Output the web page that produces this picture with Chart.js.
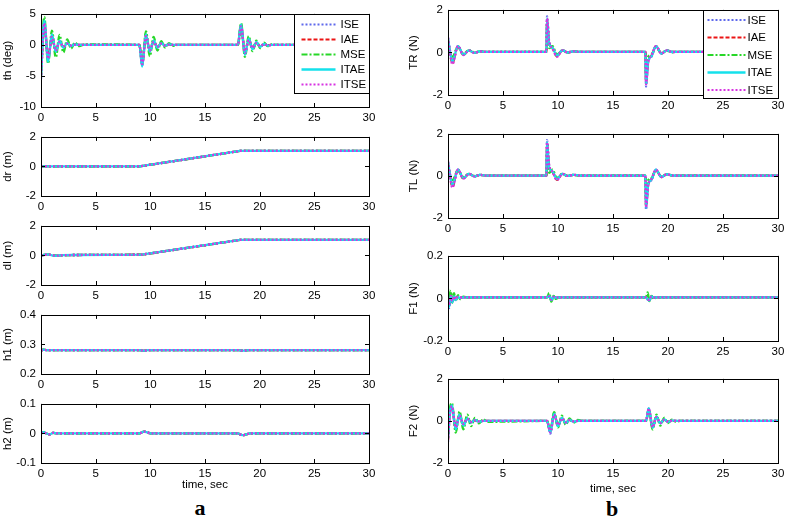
<!DOCTYPE html>
<html>
<head>
<meta charset="utf-8">
<script src="https://cdn.jsdelivr.net/npm/chart.js@4"></script>
<style>
  body { margin: 0; background: #fff; width: 785px; height: 521px; position: relative; overflow: hidden; }
  canvas { position: absolute; }
  .panel { position: absolute; width: 40px; text-align: center; font: bold 22px "Liberation Serif", "Times New Roman", serif; line-height: 22px; }
</style>
</head>
<body>
<div class="panel" style="left:180px;top:497px">a</div>
<div class="panel" style="left:592px;top:498px">b</div>
<script>
// series order: ISE, IAE, MSE, ITAE, ITSE
var names = ['ISE', 'IAE', 'MSE', 'ITAE', 'ITSE'];
var colors = ['rgb(95,105,235)', 'rgb(235,20,20)', 'rgb(40,215,40)', 'rgb(20,225,235)', 'rgb(215,50,225)'];
var dashes = [[2, 2], [4, 2], [6, 2, 2, 2], [], [2, 2]];

// th (deg)
var tTh = [0, 0.3, 0.65, 1.0, 1.35, 1.7, 2.05, 2.4, 2.75, 3.1, 3.5, 4.0, 9.0, 9.25, 9.6, 9.95, 10.3, 10.65, 11.0, 11.35, 11.7, 12.1, 12.5, 18.0, 18.3, 18.65, 19.0, 19.35, 19.7, 20.05, 20.4, 20.75, 21.1, 21.5, 30];
var thISE  = [-5.5, 3.6, -2.3, 1.5, -1.0, 0.6, -0.4, 0.25, -0.15, 0.1, 0, 0, 0, -3.3, 1.5, -1.0, 0.6, -0.4, 0.25, -0.15, 0.1, 0, 0, 0, 3.2, -1.4, 0.9, -0.6, 0.4, -0.25, 0.15, -0.1, 0, 0, 0];
var thIAE  = [-5.0, 3.3, -2.0, 1.2, -0.8, 0.5, -0.3, 0.2, -0.1, 0.05, 0, 0, 0, -3.0, 1.3, -0.8, 0.5, -0.3, 0.2, -0.1, 0.05, 0, 0, 0, 3.0, -1.2, 0.8, -0.5, 0.3, -0.2, 0.1, -0.05, 0, 0, 0];
var thMSE  = [-4.5, 4.5, -3.0, 2.3, -2.0, 1.6, -1.2, 0.9, -0.6, 0.4, -0.2, 0.1, 0, -3.0, 2.2, -1.8, 1.3, -0.9, 0.6, -0.4, 0.3, -0.15, 0, 0, 3.5, -1.9, 1.4, -1.0, 0.7, -0.5, 0.35, -0.2, 0.1, 0, 0];
var thITAE = [-5.2, 3.9, -2.7, 1.7, -1.1, 0.7, -0.45, 0.3, -0.2, 0.1, 0, 0, 0, -3.5, 1.7, -1.1, 0.7, -0.45, 0.3, -0.15, 0.1, 0, 0, 0, 3.3, -1.6, 1.0, -0.7, 0.45, -0.3, 0.15, -0.1, 0, 0, 0];
var thITSE = [-4.8, 3.5, -2.2, 1.3, -0.9, 0.5, -0.3, 0.2, -0.1, 0.05, 0, 0, 0, -3.1, 1.4, -0.9, 0.5, -0.3, 0.2, -0.1, 0.05, 0, 0, 0, 3.0, -1.3, 0.8, -0.5, 0.3, -0.2, 0.1, -0.05, 0, 0, 0];

// dr (m), dl (m): all five curves lie on top of each other
var tDr = [0, 9.0, 18.2, 30];
var drAll = [0, 0, 1.05, 1.05];
var tDl = [0, 0.4, 0.7, 1.0, 1.4, 2.0, 3.0, 9.2, 18.2, 30];
var dlAll = [0, 0.05, 0.07, 0.01, -0.02, 0.02, 0.03, 0.05, 1.05, 1.05];

// h1 (m), h2 (m)
var tH1 = [0, 0.2, 0.5, 9.0, 9.4, 9.8, 18.0, 18.5, 19.0, 30];
var h1All = [0.279, 0.282, 0.281, 0.281, 0.279, 0.281, 0.281, 0.279, 0.281, 0.281];
var tH2 = [0, 0.2, 0.5, 0.8, 1.1, 1.5, 9.0, 9.4, 9.7, 10.1, 18.0, 18.4, 18.7, 19.1, 30];
var h2All = [0, 0.004, 0, -0.003, 0.002, 0, 0, 0.006, 0.004, 0, 0, -0.006, -0.004, 0, 0];

// TR (N), TL (N)
var tT = [0, 0.15, 0.4, 0.9, 1.4, 1.9, 2.4, 2.9, 3.4, 8.95, 9.0, 9.2, 9.5, 9.9, 10.4, 10.9, 11.4, 12.0, 17.95, 18.0, 18.2, 18.5, 18.9, 19.4, 19.9, 20.4, 21.0, 30];
var trISE  = [0.7, 0.2, -0.45, 0.3, -0.1, 0.1, -0.02, 0.05, 0.03, 0.03, 1.7, 0.45, 0.25, -0.15, 0.1, 0, 0.05, 0.03, 0.03, -1.6, -0.45, -0.2, 0.3, -0.05, 0.1, 0.02, 0.03, 0.03];
var trIAE  = [0.6, 0.1, -0.5, 0.3, -0.12, 0.1, -0.02, 0.05, 0.03, 0.03, 1.5, 0.45, 0.2, -0.18, 0.1, 0, 0.05, 0.03, 0.03, -1.4, -0.4, -0.15, 0.3, -0.05, 0.1, 0.02, 0.03, 0.03];
var trMSE  = [0.4, 0.0, -0.2, 0.25, -0.05, 0.1, 0, 0.05, 0.03, 0.03, 1.3, 0.2, 0.3, -0.1, 0.1, 0, 0.05, 0.03, 0.03, -1.2, -0.2, -0.1, 0.25, -0.02, 0.08, 0.02, 0.03, 0.03];
var trITAE = [0.65, 0.15, -0.45, 0.3, -0.1, 0.1, -0.02, 0.05, 0.03, 0.03, 1.6, 0.4, 0.22, -0.15, 0.1, 0, 0.05, 0.03, 0.03, -1.5, -0.4, -0.18, 0.3, -0.05, 0.1, 0.02, 0.03, 0.03];
var trITSE = [0.7, 0.1, -0.55, 0.3, -0.12, 0.1, -0.02, 0.05, 0.03, 0.03, 1.6, 0.5, 0.2, -0.2, 0.1, 0, 0.05, 0.03, 0.03, -1.5, -0.45, -0.15, 0.3, -0.05, 0.1, 0.02, 0.03, 0.03];
var tlISE  = [0.65, 0.2, -0.45, 0.3, -0.12, 0.1, -0.02, 0.05, 0.02, 0.02, 1.7, 0.45, 0.2, -0.15, 0.1, 0, 0.05, 0.02, 0.02, -1.6, -0.4, -0.2, 0.3, -0.05, 0.08, 0.02, 0.02, 0.02];
var tlIAE  = [0.6, 0.1, -0.5, 0.3, -0.12, 0.1, -0.02, 0.05, 0.02, 0.02, 1.5, 0.45, 0.2, -0.18, 0.1, 0, 0.05, 0.02, 0.02, -1.4, -0.4, -0.15, 0.28, -0.05, 0.08, 0.02, 0.02, 0.02];
var tlMSE  = [0.4, 0.0, -0.2, 0.25, -0.05, 0.1, 0, 0.05, 0.02, 0.02, 1.3, 0.15, 0.3, -0.1, 0.1, 0, 0.05, 0.02, 0.02, -1.2, -0.2, -0.1, 0.25, -0.02, 0.08, 0.02, 0.02, 0.02];
var tlITAE = [0.65, 0.15, -0.45, 0.3, -0.1, 0.1, -0.02, 0.05, 0.02, 0.02, 1.6, 0.4, 0.22, -0.15, 0.1, 0, 0.05, 0.02, 0.02, -1.5, -0.4, -0.18, 0.3, -0.05, 0.08, 0.02, 0.02, 0.02];
var tlITSE = [0.7, 0.1, -0.55, 0.3, -0.12, 0.1, -0.02, 0.05, 0.02, 0.02, 1.6, 0.5, 0.2, -0.2, 0.1, 0, 0.05, 0.02, 0.02, -1.5, -0.45, -0.15, 0.3, -0.05, 0.08, 0.02, 0.02, 0.02];

// F1 (N)
var tF1 = [0, 0.1, 0.25, 0.4, 0.55, 0.7, 0.9, 1.1, 1.4, 1.8, 2.5, 9.0, 9.2, 9.4, 9.6, 9.8, 10.1, 10.5, 18.0, 18.15, 18.3, 18.5, 18.7, 19.0, 19.4, 30];
var f1ISE  = [0, -0.045, 0.015, -0.02, 0.012, -0.008, 0.008, 0.003, 0.005, 0.005, 0.005, 0.005, 0.01, -0.008, 0.008, 0.004, 0.005, 0.005, 0.005, -0.004, -0.01, 0.01, 0.004, 0.005, 0.005, 0.005];
var f1IAE  = [0.01, -0.035, 0.015, -0.015, 0.01, -0.005, 0.007, 0.004, 0.005, 0.005, 0.005, 0.005, 0.01, -0.006, 0.008, 0.004, 0.005, 0.005, 0.005, -0.003, -0.008, 0.009, 0.004, 0.005, 0.005, 0.005];
var f1MSE  = [0.045, -0.03, 0.035, -0.02, 0.025, -0.01, 0.015, -0.003, 0.008, 0.004, 0.005, 0.005, 0.025, -0.015, 0.012, -0.002, 0.006, 0.005, 0.005, 0.028, -0.012, 0.012, -0.002, 0.006, 0.005, 0.005];
var f1ITAE = [0, -0.04, 0.012, -0.018, 0.01, -0.006, 0.007, 0.003, 0.005, 0.005, 0.005, 0.005, 0.012, -0.008, 0.008, 0.004, 0.005, 0.005, 0.005, -0.004, -0.01, 0.01, 0.004, 0.005, 0.005, 0.005];
var f1ITSE = [0.005, -0.03, 0.012, -0.012, 0.01, -0.004, 0.007, 0.004, 0.005, 0.005, 0.005, 0.005, 0.01, -0.006, 0.007, 0.004, 0.005, 0.005, 0.005, -0.003, -0.008, 0.008, 0.004, 0.005, 0.005, 0.005];

// F2 (N)
var tF2 = [0, 0.15, 0.35, 0.7, 1.05, 1.4, 1.75, 2.1, 2.45, 2.8, 3.2, 3.6, 9.0, 9.3, 9.65, 10.0, 10.35, 10.7, 11.05, 11.4, 11.8, 12.2, 18.0, 18.25, 18.6, 18.95, 19.3, 19.65, 20.0, 20.35, 20.7, 21.1, 30];
var f2ISE  = [-1.0, 0.2, 0.7, -0.35, 0.3, -0.2, 0.12, -0.08, 0.05, -0.03, 0, 0, 0, -0.6, 0.35, -0.25, 0.15, -0.1, 0.05, -0.03, 0, 0, 0, 0.6, -0.3, 0.2, -0.12, 0.07, -0.04, 0.02, 0, 0, 0];
var f2IAE  = [-0.9, 0.25, 0.65, -0.3, 0.25, -0.15, 0.1, -0.05, 0.03, -0.02, 0, 0, 0, -0.5, 0.3, -0.2, 0.12, -0.07, 0.04, -0.02, 0, 0, 0, 0.55, -0.28, 0.18, -0.1, 0.05, -0.03, 0.01, 0, 0, 0];
var f2MSE  = [-0.6, 0.5, 0.85, -0.55, 0.45, -0.4, 0.3, -0.25, 0.15, -0.12, 0.08, -0.04, 0, -0.45, 0.42, -0.3, 0.25, -0.18, 0.12, -0.08, 0.05, 0, 0, 0.55, -0.4, 0.3, -0.22, 0.15, -0.1, 0.06, -0.03, 0, 0];
var f2ITAE = [-0.8, 0.3, 0.75, -0.4, 0.3, -0.22, 0.12, -0.08, 0.05, -0.03, 0, 0, 0, -0.55, 0.35, -0.25, 0.15, -0.1, 0.05, -0.03, 0, 0, 0, 0.6, -0.32, 0.2, -0.12, 0.07, -0.04, 0.02, 0, 0, 0];
var f2ITSE = [-0.9, 0.2, 0.7, -0.3, 0.25, -0.15, 0.1, -0.05, 0.03, -0.02, 0, 0, 0, -0.55, 0.3, -0.2, 0.12, -0.07, 0.04, -0.02, 0, 0, 0, 0.6, -0.3, 0.18, -0.1, 0.05, -0.03, 0.01, 0, 0, 0];

var font = { family: '"Liberation Sans", Arial, sans-serif', size: 11.5 };

// matlab-like box with inward ticks, plus the boxed legend
var frame = {
  id: 'frame',
  afterDraw: function (chart, args, opts) {
    var a = chart.chartArea, ctx = chart.ctx, L = 4;
    var xs = chart.scales.x, ys = chart.scales.y;
    ctx.save();
    ctx.strokeStyle = '#000';
    ctx.lineWidth = 1;
    ctx.strokeRect(Math.round(a.left) + 0.5, Math.round(a.top) + 0.5, Math.round(a.right - a.left), Math.round(a.bottom - a.top));
    ctx.beginPath();
    xs.ticks.forEach(function (tk) {
      var px = Math.round(xs.getPixelForValue(tk.value)) + 0.5;
      ctx.moveTo(px, a.bottom); ctx.lineTo(px, a.bottom - L);
      ctx.moveTo(px, a.top); ctx.lineTo(px, a.top + L);
    });
    ys.ticks.forEach(function (tk) {
      var py = Math.round(ys.getPixelForValue(tk.value)) + 0.5;
      ctx.moveTo(a.left, py); ctx.lineTo(a.left + L, py);
      ctx.moveTo(a.right, py); ctx.lineTo(a.right - L, py);
    });
    ctx.stroke();

    var lg = opts.legend;
    if (lg) {
      var bx = Math.round(a.right - lg.w) + 0.5, by = Math.round(a.top) + 0.5;
      ctx.fillStyle = '#fff';
      ctx.fillRect(bx, by, lg.w, lg.h);
      ctx.strokeRect(bx, by, lg.w, lg.h);
      ctx.font = font.size + 'px ' + font.family;
      ctx.textBaseline = 'middle';
      ctx.textAlign = 'left';
      names.forEach(function (n, i) {
        var y = by + lg.y0 + i * lg.dy;
        ctx.beginPath();
        ctx.strokeStyle = colors[i];
        ctx.lineWidth = i === 3 ? 2.5 : 2;
        ctx.setLineDash(dashes[i]);
        ctx.moveTo(bx + lg.x0, y); ctx.lineTo(bx + lg.x0 + lg.len, y);
        ctx.stroke();
        ctx.setLineDash([]);
        ctx.fillStyle = '#000';
        ctx.fillText(n, bx + lg.tx, y + 0.5);
      });
    }
    ctx.restore();
  }
};

function fmt(v) { return String(Math.round(v * 100) / 100); }

function makePlot(p) {
  var padT = 8, padR = 12;
  var c = document.createElement('canvas');
  c.width = p.padL + p.w + padR;
  c.height = padT + p.h + p.padB;
  c.style.left = (p.left - p.padL) + 'px';
  c.style.top = (p.top - padT) + 'px';
  document.body.appendChild(c);

  var datasets = p.series.map(function (ys, i) {
    return {
      label: names[i],
      data: ys.map(function (y, k) { return { x: p.t[k], y: y }; }),
      borderColor: colors[i],
      borderDash: dashes[i],
      borderWidth: 2.3,
      pointRadius: 0,
      cubicInterpolationMode: p.smooth ? 'monotone' : 'default',
      tension: 0,
      fill: false,
      order: 5 - i
    };
  });

  return new Chart(c, {
    type: 'line',
    data: { datasets: datasets },
    options: {
      responsive: false,
      animation: false,
      devicePixelRatio: 1,
      layout: { padding: { top: padT, right: padR, left: 0, bottom: 0 } },
      plugins: { legend: { display: false }, tooltip: { enabled: false }, frame: { legend: p.legend || null } },
      scales: {
        x: {
          type: 'linear', min: 0, max: 30,
          grid: { display: false, drawTicks: false }, border: { display: false },
          ticks: { stepSize: 5, color: '#000', font: font, padding: 4, maxRotation: 0, autoSkip: false },
          title: { display: !!p.xtitle, text: p.xtitle || '', color: '#000', font: font, padding: 0 },
          afterFit: function (s) { s.height = p.padB; }
        },
        y: {
          min: p.ymin, max: p.ymax,
          grid: { display: false, drawTicks: false }, border: { display: false },
          ticks: { stepSize: p.step, color: '#000', font: font, padding: 5, callback: fmt },
          title: { display: true, text: p.title, color: '#000', font: font, padding: { top: 1, bottom: 0 } },
          afterFit: function (s) { s.width = p.padL; }
        }
      }
    },
    plugins: [frame]
  });
}

var thLegend = { w: 75, h: 79, x0: 7, len: 34, tx: 46, y0: 10, dy: 15 };
var trLegend = { w: 75, h: 88, x0: 4, len: 38, tx: 44, y0: 9.5, dy: 17.5 };

// left column
makePlot({ left: 41, top: 10, w: 328, h: 97, padL: 41, padB: 20, ymin: -10, ymax: 5, step: 5, title: 'th (deg)', smooth: true,
  t: tTh, series: [thISE, thIAE, thMSE, thITAE, thITSE], legend: thLegend });
makePlot({ left: 41, top: 133, w: 328, h: 63, padL: 41, padB: 20, ymin: -2, ymax: 2, step: 2, title: 'dr (m)', smooth: false,
  t: tDr, series: [drAll, drAll, drAll, drAll, drAll] });
makePlot({ left: 41, top: 222, w: 328, h: 63, padL: 41, padB: 20, ymin: -2, ymax: 2, step: 2, title: 'dl (m)', smooth: false,
  t: tDl, series: [dlAll, dlAll, dlAll, dlAll, dlAll] });
makePlot({ left: 41, top: 311, w: 328, h: 63, padL: 41, padB: 20, ymin: 0.2, ymax: 0.4, step: 0.1, title: 'h1 (m)', smooth: true,
  t: tH1, series: [h1All, h1All, h1All, h1All, h1All] });
makePlot({ left: 41, top: 400, w: 328, h: 63, padL: 41, padB: 29, ymin: -0.1, ymax: 0.1, step: 0.1, title: 'h2 (m)', smooth: true,
  t: tH2, series: [h2All, h2All, h2All, h2All, h2All], xtitle: 'time, sec' });

// right column
makePlot({ left: 448, top: 6, w: 330, h: 89, padL: 42, padB: 20, ymin: -2, ymax: 2, step: 2, title: 'TR (N)', smooth: true,
  t: tT, series: [trISE, trIAE, trMSE, trITAE, trITSE], legend: trLegend });
makePlot({ left: 448, top: 130, w: 330, h: 88, padL: 42, padB: 20, ymin: -2, ymax: 2, step: 2, title: 'TL (N)', smooth: true,
  t: tT, series: [tlISE, tlIAE, tlMSE, tlITAE, tlITSE] });
makePlot({ left: 448, top: 252, w: 330, h: 89, padL: 42, padB: 20, ymin: -0.2, ymax: 0.2, step: 0.2, title: 'F1 (N)', smooth: true,
  t: tF1, series: [f1ISE, f1IAE, f1MSE, f1ITAE, f1ITSE] });
makePlot({ left: 448, top: 375, w: 330, h: 88, padL: 42, padB: 33, ymin: -2, ymax: 2, step: 2, title: 'F2 (N)', smooth: true,
  t: tF2, series: [f2ISE, f2IAE, f2MSE, f2ITAE, f2ITSE], xtitle: 'time, sec' });
</script>
</body>
</html>
